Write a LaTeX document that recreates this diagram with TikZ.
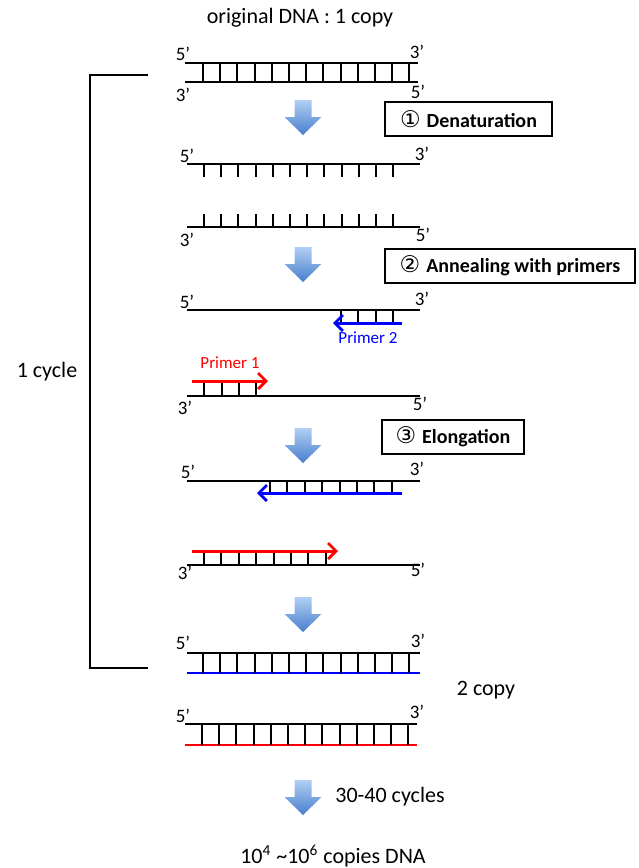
\documentclass[tikz,border=0pt]{standalone}
\usepackage{fontspec}
\setmainfont{Carlito}
\newfontfamily\symfont{DejaVu Sans}
\usetikzlibrary{arrows.meta}
\definecolor{flowtop}{RGB}{178,207,243}
\definecolor{flowbot}{RGB}{70,127,205}

\begin{document}
\begin{tikzpicture}[x=0.5pt, y=-0.5pt,
	strand/.style={line width=1pt},
	rung/.style={line width=1pt},
	primer/.style={line width=1.5pt, -{Straight Barb[length=4pt, width=8pt, line width=1.4pt]}},
	txt/.style={font=\fontsize{11}{13}\selectfont, inner sep=0pt},
	endlbl/.style={font=\fontsize{9.5}{11}\selectfont, inner sep=0pt},
	plbl/.style={font=\fontsize{8.5}{10}\selectfont, inner sep=0pt},
	num/.style={font=\symfont\mdseries\fontsize{11.5}{12}\selectfont},
	stepbox/.style={draw, line width=0.6pt, minimum height=17pt, inner xsep=2pt, font=\fontsize{10}{12}\selectfont\bfseries},
	pics/flow/.style={code={
		\shade[top color=flowtop, bottom color=flowbot] (-8.5,0) -- (8.5,0) -- (8.5,17) -- (18.5,17) -- (0,35) -- (-18.5,17) -- (-8.5,17) -- cycle;
	}}]
	\useasboundingbox (0,0) rectangle (638,868);

	\node[txt] (title) at (300,18) {original DNA : 1 copy};

	% original duplex
	\coordinate (d1) at (185,63); \coordinate (d2) at (418,63);
	\coordinate (d3) at (185,82); \coordinate (d4) at (418,82);
	\draw[strand] (d1) -- (d2);
	\draw[strand] (d3) -- (d4);
	\foreach \i in {0,...,12}
		\draw[rung] ({203+\i*17.2},63) -- ({203+\i*17.2},82);
	\node[endlbl] (d1l) at (183,54) {5’};
	\node[endlbl] (d2l) at (417,52) {3’};
	\node[endlbl] (d3l) at (183,95) {3’};
	\node[endlbl] (d4l) at (418,92) {5’};

	\pic (f1) at (303,100) {flow};
	\node[stepbox, minimum width=83.5pt] (s1) at (468.5,119) {{\symfont\mdseries\fontsize{11.5}{12}\selectfont ①}\hspace{3pt}Denaturation};

	% single strands
	\coordinate (u1) at (187,164); \coordinate (u2) at (420,164);
	\coordinate (v1) at (187,227); \coordinate (v2) at (420,227);
	\draw[strand] (u1) -- (u2);
	\draw[strand] (v1) -- (v2);
	\foreach \i in {0,...,11} {
		\draw[rung] ({204+\i*17.2},164) -- ({204+\i*17.2},177);
		\draw[rung] ({204+\i*17.2},227) -- ({204+\i*17.2},214);
	}
	\node[endlbl] (u1l) at (187,156) {5’};
	\node[endlbl] (u2l) at (422,154) {3’};
	\node[endlbl] (v1l) at (187,240) {3’};
	\node[endlbl] (v2l) at (423,235) {5’};

	\pic (f2) at (303,247) {flow};
	\node[stepbox, minimum width=125pt] (s2) at (510,266) {{\symfont\mdseries\fontsize{11.5}{12}\selectfont ②}\hspace{3pt}Annealing with primers};

	% annealing
	\coordinate (a1) at (187,310); \coordinate (a2) at (420,310);
	\coordinate (p2s) at (402,323); \coordinate (p2e) at (333,323);
	\draw[strand] (a1) -- (a2);
	\foreach \x in {341,358,376,393}
		\draw[rung] (\x,310) -- (\x,323);
	\draw[primer, blue] (p2s) -- (p2e);
	\node[plbl, text=blue] (p2) at (368,338) {Primer 2};
	\node[endlbl] (a1l) at (187,302) {5’};
	\node[endlbl] (a2l) at (422,299) {3’};

	\coordinate (b1) at (187,396); \coordinate (b2) at (420,396);
	\coordinate (p1s) at (192,381); \coordinate (p1e) at (268,381);
	\draw[strand] (b1) -- (b2);
	\foreach \x in {204,222,239,256}
		\draw[rung] (\x,381) -- (\x,396);
	\draw[primer, red] (p1s) -- (p1e);
	\node[plbl, text=red] (p1) at (230,363) {Primer 1};
	\node[endlbl] (b1l) at (185,408) {3’};
	\node[endlbl] (b2l) at (420,404) {5’};

	\pic (f3) at (303,428) {flow};
	\node[stepbox, minimum width=71pt] (s3) at (453,437) {{\symfont\mdseries\fontsize{11.5}{12}\selectfont ③}\hspace{3pt}Elongation};

	% elongation
	\coordinate (e1) at (187,481); \coordinate (e2) at (420,481);
	\coordinate (q2s) at (402,493); \coordinate (q2e) at (257,493);
	\draw[strand] (e1) -- (e2);
	\foreach \i in {0,...,7}
		\draw[rung] ({270+\i*17.4},481) -- ({270+\i*17.4},493);
	\draw[primer, blue] (q2s) -- (q2e);
	\node[endlbl] (e1l) at (188,472) {5’};
	\node[endlbl] (e2l) at (417,469) {3’};

	\coordinate (g1) at (187,565); \coordinate (g2) at (420,565);
	\coordinate (q1s) at (192,551); \coordinate (q1e) at (338,551);
	\draw[strand] (g1) -- (g2);
	\foreach \i in {0,...,7}
		\draw[rung] ({204+\i*17.4},551) -- ({204+\i*17.4},565);
	\draw[primer, red] (q1s) -- (q1e);
	\node[endlbl] (g1l) at (185,573) {3’};
	\node[endlbl] (g2l) at (418,570) {5’};

	\pic (f4) at (303,597) {flow};

	% two copies
	\coordinate (h1) at (187,653); \coordinate (h2) at (420,653);
	\coordinate (h3) at (187,673); \coordinate (h4) at (420,673);
	\draw[strand] (h1) -- (h2);
	\draw[strand, blue] (h3) -- (h4);
	\foreach \i in {0,...,12}
		\draw[rung] ({203+\i*17.2},653) -- ({203+\i*17.2},673);
	\node[endlbl] (h1l) at (183,643) {5’};
	\node[endlbl] (h2l) at (418,641) {3’};

	\coordinate (k1) at (185,724); \coordinate (k2) at (417,724);
	\coordinate (k3) at (185,745); \coordinate (k4) at (417,745);
	\draw[strand] (k1) -- (k2);
	\draw[strand, red] (k3) -- (k4);
	\foreach \i in {0,...,12}
		\draw[rung] ({202+\i*17.2},724) -- ({202+\i*17.2},745);
	\node[endlbl] (k1l) at (183,716) {5’};
	\node[endlbl] (k2l) at (417,712) {3’};

	\node[txt] (copy2) at (486,690) {2 copy};

	% cycle bracket
	\coordinate (ct) at (148,75); \coordinate (cb) at (148,668);
	\draw[line width=1pt] (ct) -- ++(-58,0) |- (cb);
	\node[txt] (cyc) at (47,372) {1 cycle};

	\pic (f5) at (303,780) {flow};
	\node[txt] (n30) at (390,797) {30-40 cycles};
	\node[txt] (res) at (333,856) {10\textsuperscript{4} \textasciitilde10\textsuperscript{6} copies DNA};
\end{tikzpicture}
\end{document}
